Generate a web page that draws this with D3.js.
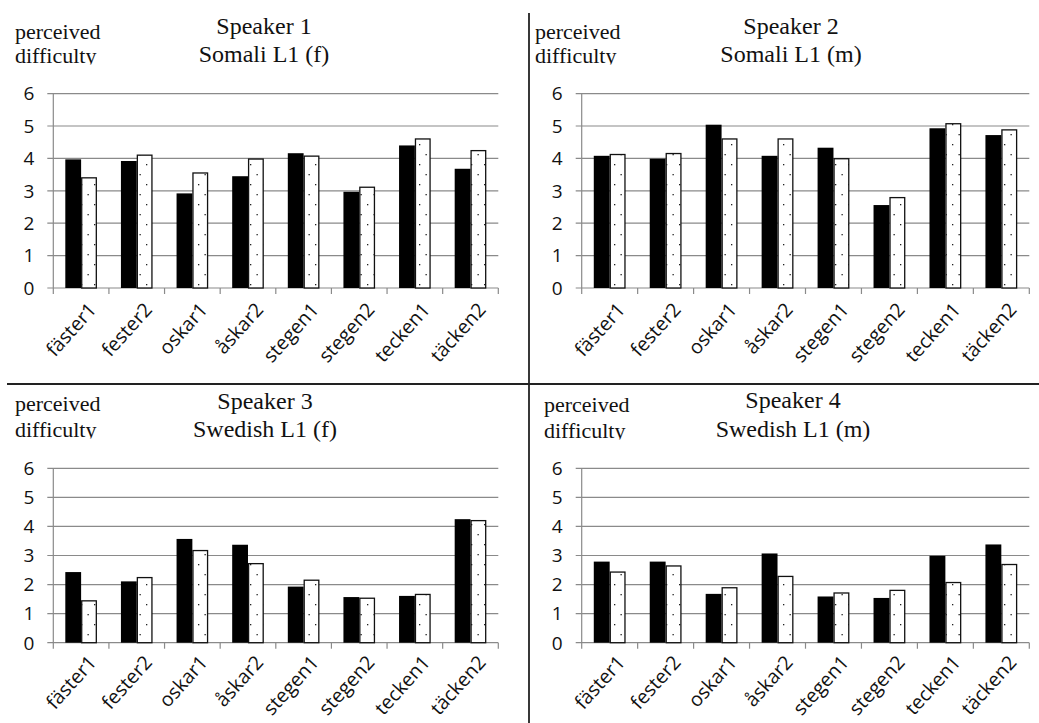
<!DOCTYPE html>
<html>
<head>
<meta charset="utf-8">
<script src="https://cdn.jsdelivr.net/npm/d3@7"></script>
<style>
  html, body { margin: 0; padding: 0; background: #fff; }
  svg { display: block; }
</style>
</head>
<body>
<script>
// ---------- data ----------
const categories = ["fäster1", "fester2", "oskar1", "åskar2", "stegen1", "stegen2", "tecken1", "täcken2"];
const speakerTitles = ["Speaker 1", "Speaker 2", "Speaker 3", "Speaker 4"];
const speakerGroups = ["Somali L1 (f)", "Somali L1 (m)", "Swedish L1 (f)", "Swedish L1 (m)"];
const yTicks = [0, 1, 2, 3, 4, 5, 6];
const yLabelLines = ["perceived", "difficulty"];
const seriesNames = ["solid", "dotted"];

const s1Solid  = [3.97, 3.92, 2.92, 3.45, 4.16, 2.97, 4.40, 3.68];
const s1Dotted = [3.40, 4.10, 3.55, 3.98, 4.07, 3.11, 4.60, 4.24];
const s2Solid  = [4.08, 3.99, 5.04, 4.08, 4.33, 2.56, 4.93, 4.72];
const s2Dotted = [4.12, 4.15, 4.60, 4.60, 3.99, 2.79, 5.07, 4.88];
const s3Solid  = [2.43, 2.11, 3.57, 3.37, 1.93, 1.57, 1.61, 4.25];
const s3Dotted = [1.44, 2.24, 3.17, 2.72, 2.15, 1.53, 1.66, 4.20];
const s4Solid  = [2.79, 2.79, 1.68, 3.07, 1.59, 1.54, 2.99, 3.38];
const s4Dotted = [2.43, 2.64, 1.89, 2.28, 1.71, 1.80, 2.07, 2.69];

const solidValues = [s1Solid, s2Solid, s3Solid, s4Solid];
const dottedValues = [s1Dotted, s2Dotted, s3Dotted, s4Dotted];

// ---------- layout ----------
const W = 1039, H = 723;
const panels = [
  { x0: 53.3,  x1: 498.3,  yTop: 93.6,  yBot: 288,   tcx: 264, t1: 34,  t2: 62,  px: 15,  p1: 39,  p2: 63,  lab: 13 },
  { x0: 581.7, x1: 1029.3, yTop: 93.6,  yBot: 288,   tcx: 791, t1: 34,  t2: 62,  px: 535, p1: 39,  p2: 63,  lab: 13 },
  { x0: 53.3,  x1: 498.3,  yTop: 468.3, yBot: 642.7, tcx: 265, t1: 409, t2: 437, px: 15,  p1: 411, p2: 437, lab: 11 },
  { x0: 581.7, x1: 1029.3, yTop: 468.3, yBot: 642.7, tcx: 793, t1: 408, t2: 437, px: 544, p1: 412, p2: 438, lab: 11 }
];

const svg = d3.select("body").append("svg").attr("width", W).attr("height", H);
const defs = svg.append("defs");
const pat = defs.append("pattern").attr("id", "dots")
  .attr("patternUnits", "userSpaceOnUse").attr("width", 13).attr("height", 20);
pat.append("rect").attr("width", 13).attr("height", 20).attr("fill", "#fff");
pat.append("rect").attr("x", 3).attr("y", 4).attr("width", 1.3).attr("height", 1.3).attr("fill", "#222");
pat.append("rect").attr("x", 9.5).attr("y", 14).attr("width", 1.3).attr("height", 1.3).attr("fill", "#222");

const gridColor = "#8a8a8a";
const serif = "'Liberation Serif', 'Times New Roman', serif";
const sans = "'Open Sans', 'Liberation Sans', sans-serif";

panels.forEach((p, i) => {
  const g = svg.append("g");
  const x = d3.scaleBand().domain(categories).range([p.x0, p.x1]).padding(0);
  const xs = d3.scaleBand().domain(seriesNames).range([0, x.bandwidth()]).paddingInner(0).paddingOuter(0.76);
  const y = d3.scaleLinear().domain([0, 6]).range([p.yBot, p.yTop]);

  // gridlines + y ticks
  g.selectAll(".grid").data(yTicks).enter().append("line")
    .attr("x1", p.x0 - 6).attr("x2", p.x1)
    .attr("y1", d => y(d)).attr("y2", d => y(d))
    .attr("stroke", gridColor).attr("stroke-width", 1.2);
  g.selectAll(".ytl").data(yTicks).enter().append("text")
    .attr("x", p.x0 - 19).attr("y", d => y(d))
    .attr("dy", "0.36em").attr("text-anchor", "end")
    .attr("font-family", sans).attr("font-size", 19).attr("fill", "#111")
    .text(d => d);

  // y axis line
  g.append("line").attr("x1", p.x0).attr("x2", p.x0).attr("y1", y(6)).attr("y2", y(0))
    .attr("stroke", gridColor).attr("stroke-width", 1.2);

  // x axis ticks at band boundaries
  const bounds = categories.map(c => x(c)).concat([p.x1]);
  g.selectAll(".xt").data(bounds).enter().append("line")
    .attr("x1", d => d).attr("x2", d => d)
    .attr("y1", y(0)).attr("y2", y(0) + 6)
    .attr("stroke", gridColor).attr("stroke-width", 1.2);

  // bars
  const rows = categories.map((c, k) => ({ c, solid: solidValues[i][k], dotted: dottedValues[i][k] }));
  g.selectAll(".bs").data(rows).enter().append("rect")
    .attr("x", d => x(d.c) + xs("solid"))
    .attr("width", xs.bandwidth())
    .attr("y", d => y(d.solid)).attr("height", d => y(0) - y(d.solid))
    .attr("fill", "#000");
  g.selectAll(".bd").data(rows).enter().append("rect")
    .attr("x", d => x(d.c) + xs("dotted") + 0.6)
    .attr("width", xs.bandwidth() - 1.2)
    .attr("y", d => y(d.dotted)).attr("height", d => y(0) - y(d.dotted))
    .attr("fill", "url(#dots)").attr("stroke", "#111").attr("stroke-width", 1.3);

  // x labels
  g.selectAll(".xl").data(categories).enter().append("text")
    .attr("transform", d => `translate(${x(d) + x.bandwidth() / 2 + 6},${y(0) + p.lab}) rotate(-48)`)
    .attr("text-anchor", "end").attr("dy", "0.72em")
    .attr("font-family", sans).attr("font-size", 19.5).attr("fill", "#111")
    .text(d => d);

  // titles
  g.append("text").attr("x", p.tcx).attr("y", p.t1).attr("text-anchor", "middle")
    .attr("font-family", serif).attr("font-size", 24).attr("fill", "#111").text(speakerTitles[i]);
  g.append("text").attr("x", p.tcx).attr("y", p.t2).attr("text-anchor", "middle")
    .attr("font-family", serif).attr("font-size", 24).attr("fill", "#111").text(speakerGroups[i]);

  // y label (second line clipped at the bottom as in the original)
  defs.append("clipPath").attr("id", "clipY" + i).append("rect")
    .attr("x", p.px - 5).attr("y", p.p1 - 30).attr("width", 130).attr("height", p.p2 - p.p1 + 31.5);
  const yl = g.append("g").attr("clip-path", `url(#clipY${i})`);
  yl.selectAll("text").data(yLabelLines).enter().append("text")
    .attr("x", p.px).attr("y", (d, k) => k === 0 ? p.p1 : p.p2)
    .attr("font-family", serif).attr("font-size", 22).attr("fill", "#111")
    .text(d => d);
});

// divider lines
svg.append("line").attr("x1", 529).attr("x2", 529).attr("y1", 13).attr("y2", H)
  .attr("stroke", "#222").attr("stroke-width", 1.8);
svg.append("line").attr("x1", 7).attr("x2", W).attr("y1", 384).attr("y2", 384)
  .attr("stroke", "#222").attr("stroke-width", 1.8);
</script>
</body>
</html>
